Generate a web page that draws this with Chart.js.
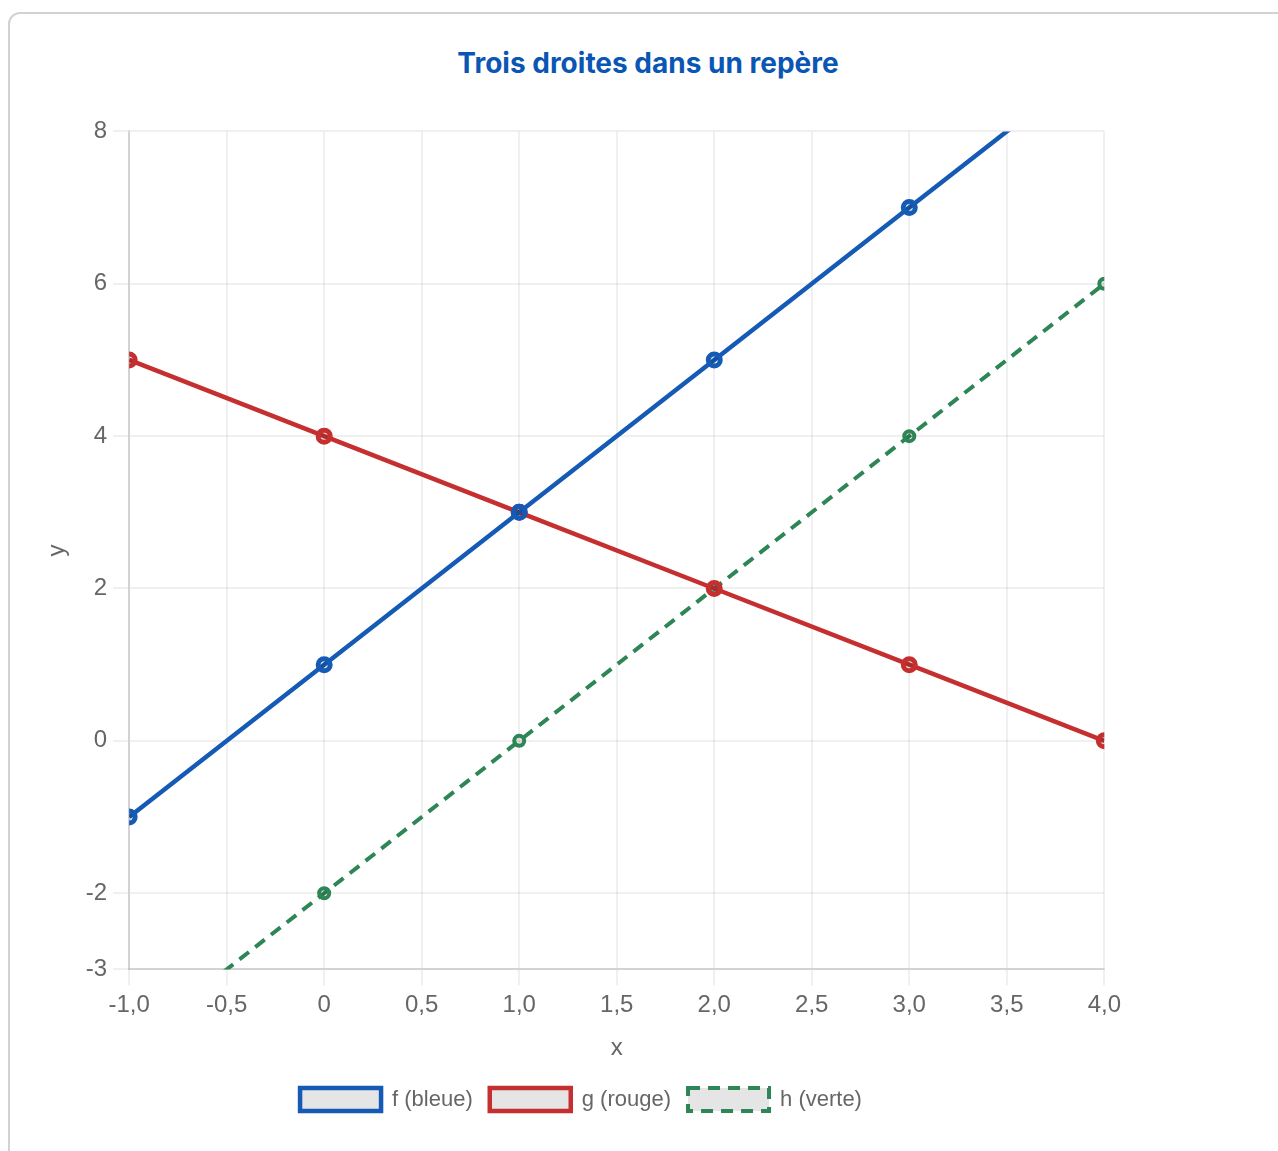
<!DOCTYPE html>
<html lang="fr">
<head>
<meta charset="UTF-8" />
<title>Trois droites dans un repère</title>
<script src="https://cdn.jsdelivr.net/npm/chart.js"></script>
<style>
  body { margin: 0; background: #fff; overflow: hidden; font-family: "Liberation Sans", Arial, sans-serif; }
  .carte { position: absolute; left: 8px; top: 12px; width: 1300px; height: 1200px;
           border: 2px solid #d2d2d2; border-radius: 12px; box-sizing: border-box; }
  h2 { position: absolute; left: 0; top: 46px; width: 1296px; margin: 0; text-align: center;
       font: 700 28px Inter, "Noto Sans", sans-serif; color: #0a56b4; }
  #zone { position: absolute; left: 35px; top: 111px; width: 1092px; height: 1010px; }
</style>
</head>
<body>
<div class="carte"></div>
<h2>Trois droites dans un repère</h2>
<div id="zone"><canvas id="grafica"></canvas></div>

<script>
// valeurs
const xVals = [-1, 0, 1, 2, 3, 4];
const fVals = [-1, 1, 3, 5, 7, 9];   // f (bleue)
const gVals = [5, 4, 3, 2, 1, 0];    // g (rouge)
const hVals = [-4, -2, 0, 2, 4, 6];  // h (verte)

const points = ys => xVals.map((x, i) => ({ x: x, y: ys[i] }));

const police = { family: "'Liberation Sans', Arial, sans-serif", size: 24 };
const grille = { color: 'rgba(0,0,0,0.06)', lineWidth: 2, tickLength: 16 };

const ctx = document.getElementById('grafica').getContext('2d');
new Chart(ctx, {
  type: 'line',
  data: {
    datasets: [
      {
        label: 'f (bleue)',
        data: points(fVals),
        borderColor: '#155bb5',
        borderWidth: 4.5,
        pointRadius: 6,
        pointBorderWidth: 5
      },
      {
        label: 'g (rouge)',
        data: points(gVals),
        borderColor: '#c62f2f',
        borderWidth: 4.5,
        pointRadius: 6,
        pointBorderWidth: 5
      },
      {
        label: 'h (verte)',
        data: points(hVals),
        borderColor: '#2e8555',
        borderWidth: 4,
        borderDash: [12, 8],
        pointRadius: 5,
        pointBorderWidth: 4
      }
    ]
  },
  options: {
    responsive: true,
    maintainAspectRatio: false,
    animation: false,
    locale: 'fr-FR',
    plugins: {
      legend: {
        position: 'bottom',
        labels: {
          boxWidth: 81, boxHeight: 23, padding: 17, color: '#666',
          font: { family: police.family, size: 22 }
        }
      },
      tooltip: { enabled: false }
    },
    scales: {
      x: {
        type: 'linear',
        min: -1,
        max: 4,
        ticks: { stepSize: 0.5, color: '#666', font: police, padding: 6 },
        grid: grille,
        border: { color: 'rgba(0,0,0,0.12)', width: 2 },
        title: { display: true, text: 'x', color: '#666', font: police, padding: 8 }
      },
      y: {
        min: -3,
        max: 8,
        ticks: { stepSize: 2, color: '#666', font: police, padding: 6 },
        grid: grille,
        border: { color: 'rgba(0,0,0,0.12)', width: 2 },
        title: { display: true, text: 'y', color: '#666', font: police, padding: 8 }
      }
    }
  }
});
</script>
</body>
</html>
